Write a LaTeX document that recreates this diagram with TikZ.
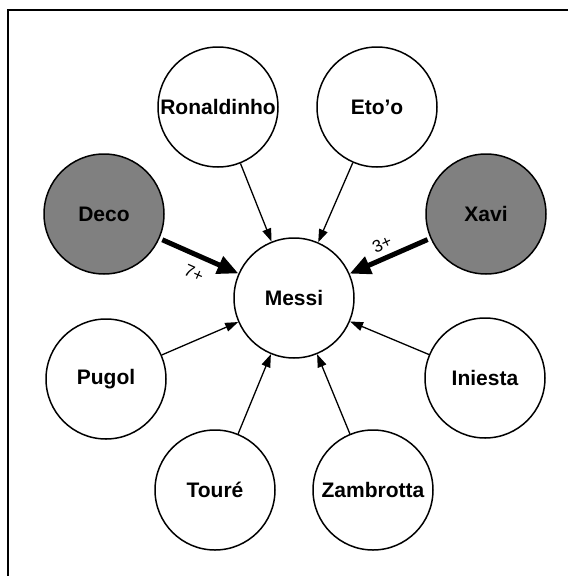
\documentclass[tikz,border=0pt]{standalone}
\usepackage{fontspec}
\setmainfont{Liberation Sans}
\usetikzlibrary{arrows.meta}
\definecolor{starfill}{RGB}{128,128,128}
\begin{document}
\begin{tikzpicture}[x=1pt,y=-1pt,
  player/.style={circle,draw,line width=1.5pt,minimum size=120pt,inner sep=0pt,
    fill=white,font=\fontsize{21}{24}\selectfont\bfseries},
  star/.style={player,fill=starfill},
  link/.style={-{Triangle[length=13pt,width=9pt]},line width=1.3pt},
  strong/.style={-{Triangle[length=21pt,width=18pt]},line width=5pt,shorten <=3pt},
  tag/.style={font=\fontsize{17}{20}\selectfont}]
\useasboundingbox (0,0) rectangle (568,576);
% frame
\draw[line width=2pt] (7.5,576) -- (7.5,10) -- (568,10);

% players
\node[player] (messi) at (294,298) {Messi};
\node[player] (ronaldinho) at (218,107) {Ronaldinho};
\node[player] (etoo) at (377,107) {Eto’o};
\node[star] (deco) at (104,214) {Deco};
\node[star] (xavi) at (486,214) {Xavi};
\node[player] (pugol) at (106,379) {Pugol};
\node[player] (iniesta) at (485,378) {Iniesta};
\node[player] (toure) at (215,490) {Touré};
\node[player] (zambrotta) at (373,490) {Zambrotta};

% passes towards Messi
\draw[link] (ronaldinho) -- (messi);
\draw[link] (etoo) -- (messi);
\draw[link] (pugol) -- (messi);
\draw[link] (iniesta) -- (messi);
\draw[link] (toure) -- (messi);
\draw[link] (zambrotta) -- (messi);
\draw[strong] (deco) -- (messi);
\draw[strong] (xavi) -- (messi);

% pass counts
\node[tag,rotate=-24] (decocount) at (194,273) {7+};
\node[tag,rotate=24] (xavicount) at (382,244) {3+};
\end{tikzpicture}
\end{document}
